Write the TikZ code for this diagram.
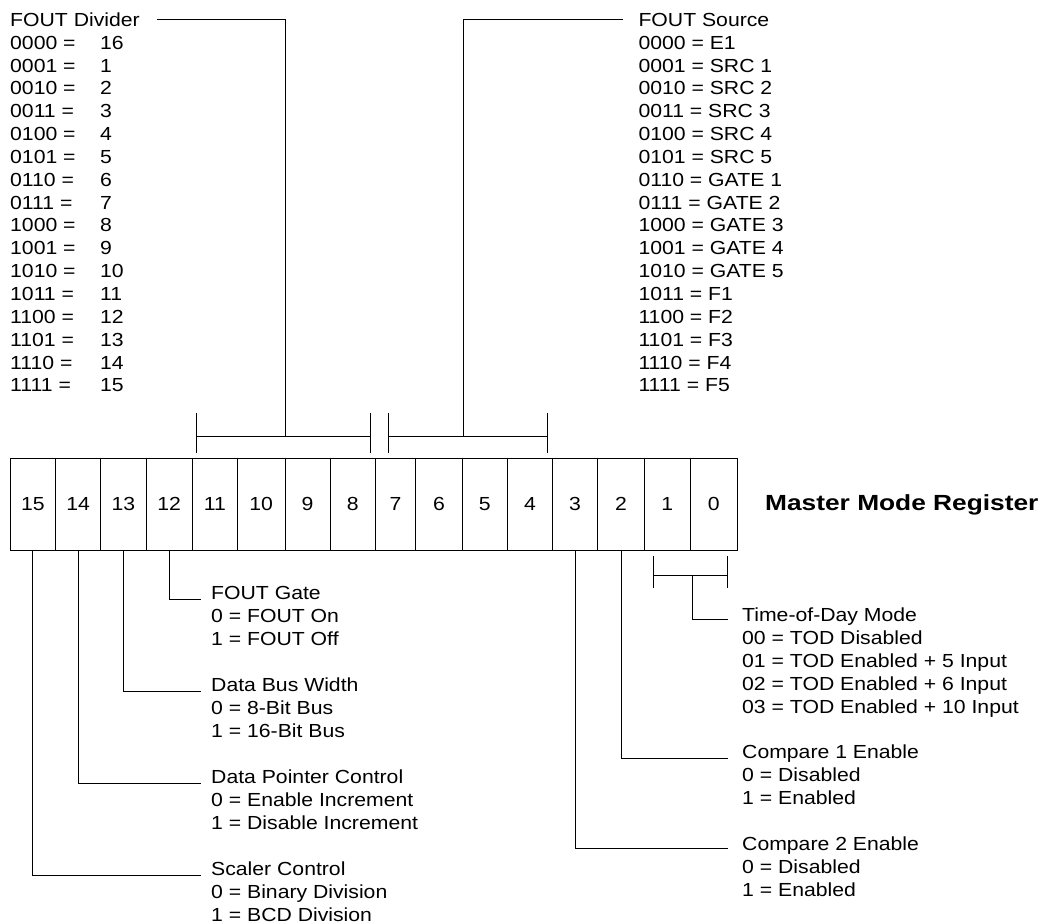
\documentclass[tikz,border=0pt]{standalone}
\usepackage{fontspec}
\setmainfont[FakeStretch=1.12]{Liberation Sans}
\newfontfamily\titlefont[FakeStretch=1.2]{Liberation Sans}
\newcommand{\tf}{\fontsize{19}{22}\selectfont}
\begin{document}
\begin{tikzpicture}[x=1bp,y=-1bp,
  lbl/.style={anchor=base west, inner sep=0pt, font=\tf},
  cell/.style={draw, line width=1bp, inner sep=0pt, font=\tf, minimum height=91.7bp},
  wire/.style={line width=1bp}]
\useasboundingbox (0,0) rectangle (1041,924);
% register cells
\foreach \b/\l/\r in {15/10/55.7, 14/55.7/100.7, 13/100.7/146, 12/146/192.3, 11/192.3/237.3,
  10/237.3/285, 9/285/330, 8/330/375.3, 7/375.3/415.7, 6/415.7/462.3, 5/462.3/507.3,
  4/507.3/552.7, 3/552.7/597.3, 2/597.3/644.7, 1/644.7/690, 0/690/737.3}
  {\node[cell, minimum width={(\r-\l)*1bp}] (c\b) at ({(\l+\r)/2},504.15) {\b};}
\node[anchor=base west, inner sep=0pt, font=\titlefont\bfseries\fontsize{22}{24}\selectfont] (mmr) at (765,510) {Master Mode Register};
% FOUT Divider
\node[lbl] (dvt) at (10,26.3) {FOUT Divider};
\foreach \k/\c/\v in {1/0000/16, 2/0001/1, 3/0010/2, 4/0011/3, 5/0100/4, 6/0101/5, 7/0110/6,
  8/0111/7, 9/1000/8, 10/1001/9, 11/1010/10, 12/1011/11, 13/1100/12, 14/1101/13, 15/1110/14, 16/1111/15}
  {\node[lbl] (dc\k) at (10,{26.3+22.85*\k}) {\c\ =};
   \node[lbl] (dv\k) at (100,{26.3+22.85*\k}) {\v};}
% FOUT Source
\node[lbl] (srt) at (638.3,26.3) {FOUT Source};
\foreach \k/\c/\v in {1/0000/E1, 2/0001/SRC 1, 3/0010/SRC 2, 4/0011/SRC 3, 5/0100/SRC 4, 6/0101/SRC 5,
  7/0110/GATE 1, 8/0111/GATE 2, 9/1000/GATE 3, 10/1001/GATE 4, 11/1010/GATE 5, 12/1011/F1,
  13/1100/F2, 14/1101/F3, 15/1110/F4, 16/1111/F5}
  {\node[lbl] (sr\k) at (638.3,{26.3+22.85*\k}) {\c\ = \v};}
% top brackets
\draw[wire] (196.7,413) -- (196.7,453) (370.3,413) -- (370.3,453) (196.7,436) -- (370.3,436);
\draw[wire] (388.7,413) -- (388.7,453) (547.7,413) -- (547.7,453) (388.7,436) -- (547.7,436);
\coordinate (dmid) at (285,436);
\coordinate (smid) at (463.5,436);
\draw[wire] (dmid) |- ([xshift=17bp,yshift=7bp]dvt.base east);
\draw[wire] (smid) |- ([xshift=-15bp,yshift=7bp]srt.base west);
% left bottom groups
\node[lbl] (fg) at (211,599) {FOUT Gate};
\node[lbl] (fg1) at (211,622) {0 = FOUT On};
\node[lbl] (fg2) at (211,645) {1 = FOUT Off};
\node[lbl] (db) at (211,691) {Data Bus Width};
\node[lbl] (db1) at (211,714) {0 = 8-Bit Bus};
\node[lbl] (db2) at (211,737) {1 = 16-Bit Bus};
\node[lbl] (dp) at (211,783) {Data Pointer Control};
\node[lbl] (dp1) at (211,806) {0 = Enable Increment};
\node[lbl] (dp2) at (211,829) {1 = Disable Increment};
\node[lbl] (sc) at (211,875) {Scaler Control};
\node[lbl] (sc1) at (211,898) {0 = Binary Division};
\node[lbl] (sc2) at (211,921) {1 = BCD Division};
\draw[wire] (c12.south) |- ([xshift=-10bp]fg.base west);
\draw[wire] (c13.south) |- ([xshift=-10bp]db.base west);
\draw[wire] (c14.south) |- ([xshift=-10bp]dp.base west);
\draw[wire] (c15.south) |- ([xshift=-10bp]sc.base west);
% right bottom groups
\node[lbl] (tod) at (742,621) {Time-of-Day Mode};
\node[lbl] (tod1) at (742,644) {00 = TOD Disabled};
\node[lbl] (tod2) at (742,667) {01 = TOD Enabled + 5 Input};
\node[lbl] (tod3) at (742,690) {02 = TOD Enabled + 6 Input};
\node[lbl] (tod4) at (742,713) {03 = TOD Enabled + 10 Input};
\node[lbl] (ca) at (742,758) {Compare 1 Enable};
\node[lbl] (ca1) at (742,781) {0 = Disabled};
\node[lbl] (ca2) at (742,804) {1 = Enabled};
\node[lbl] (cb) at (742,850) {Compare 2 Enable};
\node[lbl] (cb1) at (742,873) {0 = Disabled};
\node[lbl] (cb2) at (742,896) {1 = Enabled};
\draw[wire] (653,556) -- (653,588) (727.3,556) -- (727.3,588) (653,575) -- (727.3,575);
\coordinate (tmid) at (692,575);
\draw[wire] (tmid) |- ([xshift=-14bp,yshift=2bp]tod.base west);
\draw[wire] (c2.south) |- ([xshift=-14bp]ca.base west);
\draw[wire] (c3.south) |- ([xshift=-14bp,yshift=2bp]cb.base west);
\end{tikzpicture}
\end{document}
